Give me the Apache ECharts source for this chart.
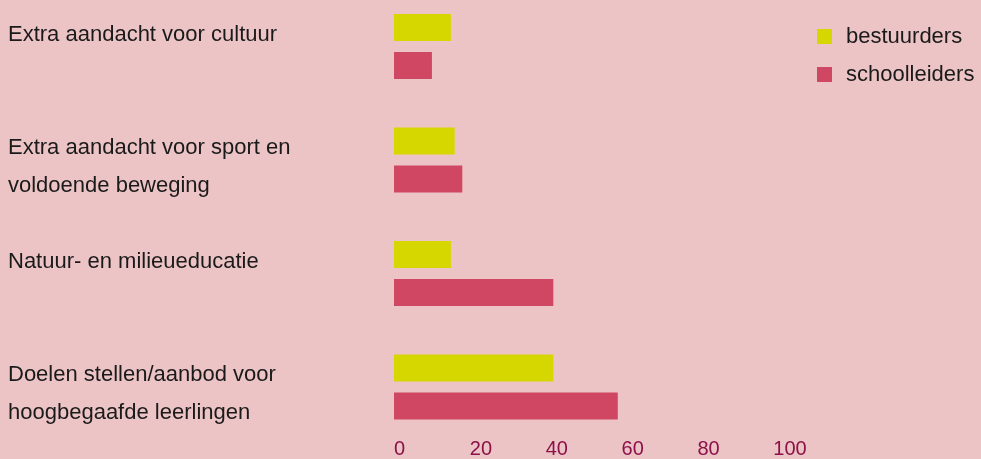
<!DOCTYPE html>
<html>
<head>
<meta charset="utf-8">
<script src="https://cdn.jsdelivr.net/npm/echarts@6/dist/echarts.min.js"></script>
<style>
  html, body { margin: 0; padding: 0; background: #edc4c6; }
  #chart { width: 981px; height: 459px; }
</style>
</head>
<body>
<div id="chart"></div>
<script>
// categorieen (van boven naar beneden)
var categories = [
	'Extra aandacht voor cultuur',
	'Extra aandacht voor sport en\nvoldoende beweging',
	'Natuur- en milieueducatie',
	'Doelen stellen/aanbod voor\nhoogbegaafde leerlingen'
];
var bestuurders = [15, 16, 15, 42];
var schoolleiders = [10, 18, 42, 59];
var xTicks = [0, 20, 40, 60, 80, 100];

var myChart = echarts.init(document.getElementById('chart'));

var option = {
	backgroundColor: '#edc4c6',
	textStyle: { fontFamily: 'Liberation Sans, Arial, sans-serif' },
	animation: false,
	legend: {
		orient: 'vertical',
		left: 812,
		top: 20.5,
		itemWidth: 15,
		itemHeight: 15,
		itemGap: 16,
		icon: 'rect',
		textStyle: { fontSize: 22, color: '#1a1a1a', padding: [0, 0, 0, 9] },
		data: ['bestuurders', 'schoolleiders']
	},
	grid: {
		left: 394,
		right: 207.7,
		top: -10.25,
		bottom: 15.25,
		outerBoundsMode: 'none',
		containLabel: false
	},
	xAxis: {
		type: 'value',
		min: xTicks[0],
		max: xTicks[xTicks.length - 1],
		interval: 20,
		axisLine: { show: false },
		axisTick: { show: false },
		splitLine: { show: false },
		axisLabel: {
			fontSize: 20,
			color: '#8c1049',
			align: 'left',
			verticalAlign: 'middle',
			margin: 6
		}
	},
	yAxis: {
		type: 'category',
		inverse: true,
		data: categories,
		axisLine: { show: false },
		axisTick: { show: false },
		axisLabel: {
			fontSize: 22,
			color: '#1a1a1a',
			align: 'left',
			verticalAlign: 'top',
			lineHeight: 38,
			padding: [-31, 0, 0, 0],
			margin: 386
		}
	},
	series: [
		{
			name: 'bestuurders',
			type: 'bar',
			data: bestuurders,
			barWidth: 27,
			barGap: '41%',
			itemStyle: { color: '#d6d600' }
		},
		{
			name: 'schoolleiders',
			type: 'bar',
			data: schoolleiders,
			barWidth: 27,
			itemStyle: { color: '#d04763' }
		}
	]
};
myChart.setOption(option);
</script>
</body>
</html>
